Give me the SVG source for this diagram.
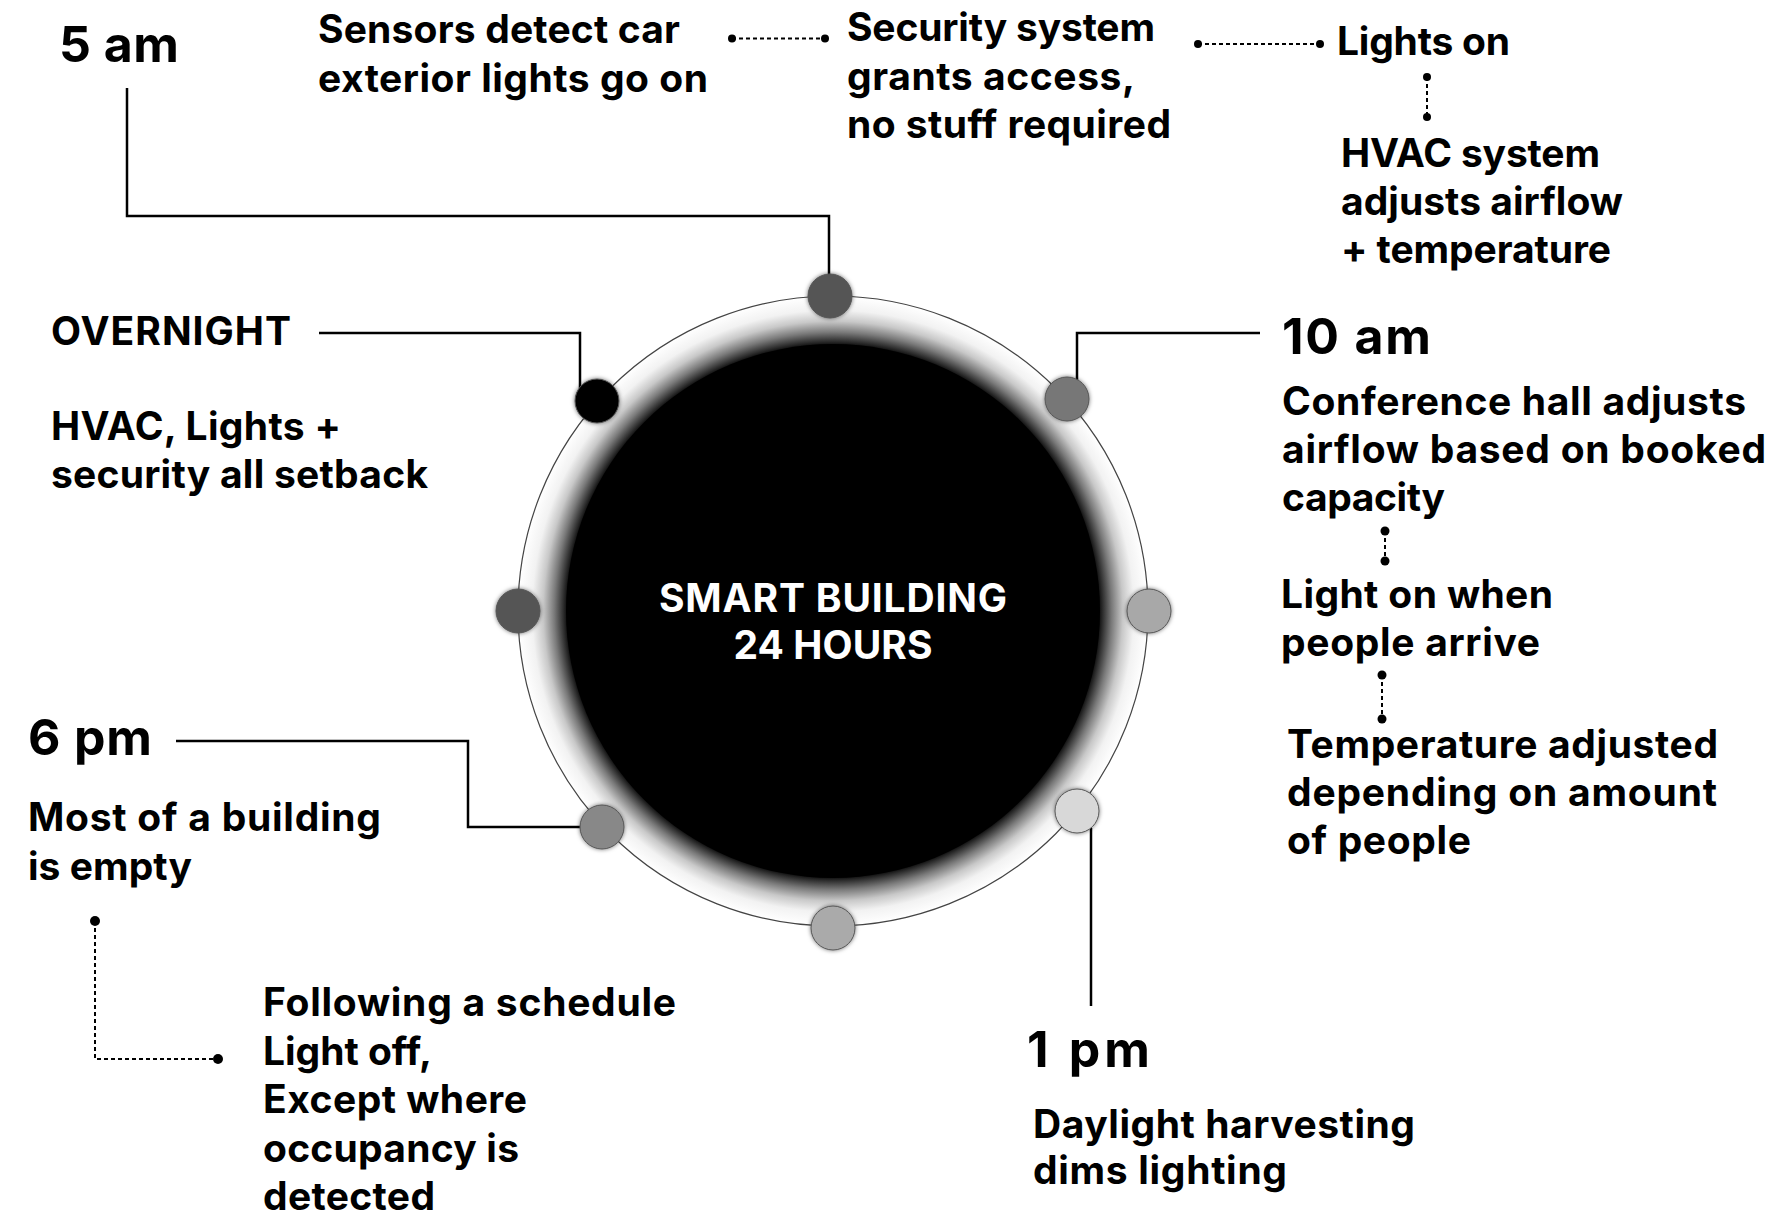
<svg xmlns="http://www.w3.org/2000/svg" width="1776" height="1216" viewBox="0 0 1776 1216">
<style>
  text { font-family: Inter, "Liberation Sans", Arial, sans-serif; font-weight: 700; fill: #000; }
  .big { font-size: 50px; }
  .t { font-size: 39px; }
  .ctr { font-size: 39px; fill: #fff; text-anchor: middle; }
  .solid { fill: none; stroke: #000; stroke-width: 2.5; }
  .dotted { fill: none; stroke: #000; stroke-width: 2; stroke-dasharray: 4 3; }
  .end { fill: #000; }
  .dot { stroke: #555; stroke-width: 1; filter: url(#sh); }
</style>
<defs>
  <radialGradient id="glow" cx="833" cy="611" r="315" gradientUnits="userSpaceOnUse">
    <stop offset="0.84" stop-color="#000"/>
    <stop offset="0.855" stop-color="#2a2a2a"/>
    <stop offset="0.885" stop-color="#7a7a7a"/>
    <stop offset="0.92" stop-color="#c8c8c8"/>
    <stop offset="0.955" stop-color="#f2f2f2"/>
    <stop offset="1" stop-color="#fff"/>
  </radialGradient>
  <filter id="sh" x="-40%" y="-40%" width="180%" height="180%">
    <feDropShadow dx="0" dy="0" stdDeviation="2" flood-color="#000" flood-opacity="0.55"/>
  </filter>
</defs>
<rect width="1776" height="1216" fill="#fff"/>

<g id="connectors">
  <path class="solid" d="M127,88 V216 H829 V276"/>
  <path class="solid" d="M319,333 H580 V388"/>
  <path class="solid" d="M1260,333 H1077 V380"/>
  <path class="solid" d="M176,741 H468 V827 H582"/>
  <path class="solid" d="M1091,828 V1006"/>

  <path class="dotted" d="M732,38.5 H825"/>
  <circle class="end" cx="732" cy="38.5" r="4"/><circle class="end" cx="825" cy="38.5" r="4"/>
  <path class="dotted" d="M1198,44 H1320"/>
  <circle class="end" cx="1198" cy="44" r="4"/><circle class="end" cx="1320" cy="44" r="4"/>
  <path class="dotted" d="M1427,77 V117"/>
  <circle class="end" cx="1427" cy="77" r="4"/><circle class="end" cx="1427" cy="117" r="4"/>
  <path class="dotted" d="M1385,531 V561"/>
  <circle class="end" cx="1385" cy="531" r="4.5"/><circle class="end" cx="1385" cy="561" r="4.5"/>
  <path class="dotted" d="M1382,675 V719"/>
  <circle class="end" cx="1382" cy="675" r="4.5"/><circle class="end" cx="1382" cy="719" r="4.5"/>
  <path class="dotted" d="M95,921 V1059 H218"/>
  <circle class="end" cx="95" cy="921" r="5"/><circle class="end" cx="218" cy="1059" r="5"/>
</g>

<g id="hub">
  <circle cx="833" cy="611" r="315" fill="url(#glow)" stroke="#444" stroke-width="1.2"/>
  <circle cx="833" cy="611" r="267" fill="#000"/>
  <text class="ctr" x="833" y="612" textLength="348">SMART BUILDING</text>
  <text class="ctr" x="833" y="659" textLength="199">24 HOURS</text>
</g>

<g id="dots">
  <circle class="dot" cx="830" cy="296" r="22" fill="#555"/>
  <circle class="dot" cx="597" cy="401" r="22" fill="#050505"/>
  <circle class="dot" cx="1067" cy="399" r="22" fill="#777"/>
  <circle class="dot" cx="518" cy="611" r="22" fill="#555"/>
  <circle class="dot" cx="1149" cy="611" r="22" fill="#a8a8a8"/>
  <circle class="dot" cx="602" cy="827" r="22" fill="#888"/>
  <circle class="dot" cx="1077" cy="811" r="22" fill="#d8d8d8"/>
  <circle class="dot" cx="833" cy="928" r="22" fill="#aaa"/>
</g>

<g id="node-5am">
  <text class="big" x="59" y="62" textLength="120">5 am</text>
</g>
<g id="node-sensors">
  <text class="t" x="318" y="43" textLength="362">Sensors detect car</text>
  <text class="t" x="318" y="92" textLength="390">exterior lights go on</text>
</g>
<g id="node-security">
  <text class="t" x="847" y="41" textLength="308">Security system</text>
  <text class="t" x="847" y="90" textLength="288">grants access,</text>
  <text class="t" x="847" y="138" textLength="324">no stuff required</text>
</g>
<g id="node-lights-on">
  <text class="t" x="1337" y="55" textLength="173">Lights on</text>
</g>
<g id="node-hvac-system">
  <text class="t" x="1341" y="167" textLength="259">HVAC system</text>
  <text class="t" x="1341" y="215" textLength="282">adjusts airflow</text>
  <text class="t" x="1341" y="263" textLength="270">+ temperature</text>
</g>
<g id="node-overnight">
  <text class="t" x="51" y="345" textLength="240">OVERNIGHT</text>
  <text class="t" x="51" y="440" textLength="290">HVAC, Lights +</text>
  <text class="t" x="51" y="488" textLength="377">security all setback</text>
</g>
<g id="node-10am">
  <text class="big" x="1282" y="354" textLength="149">10 am</text>
  <text class="t" x="1282" y="415" textLength="464">Conference hall adjusts</text>
  <text class="t" x="1282" y="463" textLength="484">airflow based on booked</text>
  <text class="t" x="1282" y="511" textLength="163">capacity</text>
</g>
<g id="node-light-on-when">
  <text class="t" x="1281" y="608" textLength="272">Light on when</text>
  <text class="t" x="1281" y="656" textLength="259">people arrive</text>
</g>
<g id="node-temperature">
  <text class="t" x="1287" y="758" textLength="431">Temperature adjusted</text>
  <text class="t" x="1287" y="806" textLength="430">depending on amount</text>
  <text class="t" x="1287" y="854" textLength="184">of people</text>
</g>
<g id="node-6pm">
  <text class="big" x="28" y="755" textLength="124">6 pm</text>
  <text class="t" x="28" y="831" textLength="353">Most of a building</text>
  <text class="t" x="28" y="880" textLength="164">is empty</text>
</g>
<g id="node-schedule">
  <text class="t" x="263" y="1016" textLength="413">Following a schedule</text>
  <text class="t" x="263" y="1065" textLength="169">Light off,</text>
  <text class="t" x="263" y="1113" textLength="264">Except where</text>
  <text class="t" x="263" y="1162" textLength="256">occupancy is</text>
  <text class="t" x="263" y="1210" textLength="172">detected</text>
</g>
<g id="node-1pm">
  <text class="big" x="1027" y="1067" textLength="123">1 pm</text>
  <text class="t" x="1033" y="1138" textLength="382">Daylight harvesting</text>
  <text class="t" x="1033" y="1184" textLength="254">dims lighting</text>
</g>
</svg>
